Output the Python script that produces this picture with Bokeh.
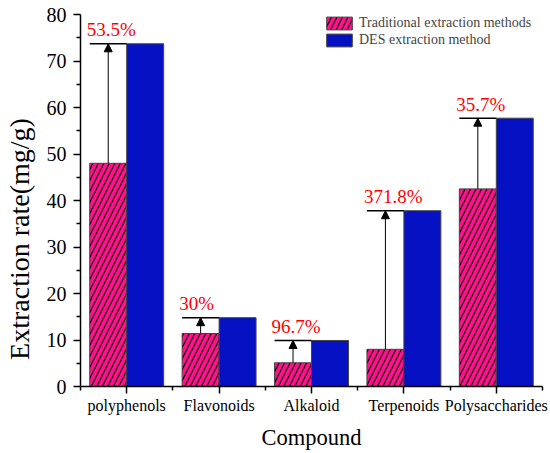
from bokeh.plotting import figure
from bokeh.models import (ColumnDataSource, Range1d, FixedTicker, Legend, LegendItem,
                          Arrow, NormalHead)
from bokeh.core.properties import value
from bokeh.embed import file_html
from bokeh.resources import INLINE

categories = ["polyphenols", "Flavonoids", "Alkaloid", "Terpenoids", "Polysaccharides"]
traditional = [48.0, 11.4, 5.1, 8.0, 42.5]
des = [73.7, 14.8, 9.9, 37.8, 57.7]
increase_labels = ["53.5%", "30%", "96.7%", "371.8%", "35.7%"]
y_ticks = [0, 10, 20, 30, 40, 50, 60, 70, 80]

FONT = "Liberation Serif"
PINK = "#FF108C"
BLUE = "#0511C2"

idx = list(range(len(categories)))
src = ColumnDataSource(dict(
    x_trad=[i + 0.3 for i in idx],
    x_des=[i + 0.7 for i in idx],
    x_left=[i + 0.1 for i in idx],
    x_mid=[i + 0.5 for i in idx],
    trad=traditional,
    des=des,
    lab_y=[d + 3.0 for d in des],
    lab=increase_labels,
))

p = figure(width=550, height=453, output_backend="svg", toolbar_location=None,
           x_range=Range1d(0, 5), y_range=Range1d(0, 80),
           min_border_left=80, min_border_right=8, min_border_top=14, min_border_bottom=67)
p.outline_line_color = None
p.xgrid.grid_line_color = None
p.ygrid.grid_line_color = None
p.background_fill_color = "white"
p.border_fill_color = "white"

r_trad = p.vbar(x="x_trad", top="trad", width=0.4, source=src, fill_color=PINK,
                line_color="#444444", line_width=1, hatch_pattern="right_diagonal_line",
                hatch_color="black", hatch_scale=11, hatch_weight=1.1)
r_des = p.vbar(x="x_des", top="des", width=0.4, source=src, fill_color=BLUE,
               line_color="#444444", line_width=1)

# horizontal reference lines at the DES level
p.segment(x0="x_left", y0="des", x1="x_mid", y1="des", source=src,
          line_color="black", line_width=1.5)

# arrows from traditional top to DES level
p.add_layout(Arrow(end=NormalHead(size=8, fill_color="black", line_color="black"),
                   x_start="x_trad", y_start="trad", x_end="x_trad", y_end="des",
                   source=src, line_color="black", line_width=1))

p.text(x="x_left", y="lab_y", text="lab", source=src, text_color="red",
       text_font=value(FONT), text_font_size="19px", text_align="left",
       text_baseline="alphabetic", x_offset=-3)

# axes
p.xaxis.ticker = FixedTicker(ticks=[i + 0.5 for i in idx], minor_ticks=[0, 1, 2, 3, 4, 5])
p.xaxis.major_label_overrides = {i + 0.5: c for i, c in zip(idx, categories)}
p.yaxis.ticker = FixedTicker(ticks=y_ticks, minor_ticks=[t + 5 for t in y_ticks[:-1]])

for ax in (p.xaxis[0], p.yaxis[0]):
    ax.axis_line_color = "black"
    ax.axis_line_width = 1.5
    ax.major_tick_line_color = "black"
    ax.major_tick_line_width = 1.5
    ax.minor_tick_line_color = "black"
    ax.minor_tick_line_width = 1.5
    ax.major_tick_in = 0
    ax.major_tick_out = 7
    ax.minor_tick_in = 0
    ax.minor_tick_out = 4
    ax.major_label_text_font = FONT
    ax.major_label_text_color = "black"
    ax.axis_label_text_font = FONT
    ax.axis_label_text_font_style = "normal"
    ax.axis_label_text_color = "black"

p.yaxis.major_label_text_font_size = "20px"
p.yaxis.major_label_standoff = 7
p.yaxis.axis_label = "Extraction rate(mg/g)" + "\u00a0" * 11
p.yaxis.axis_label_text_font_size = "28px"
p.yaxis.axis_label_standoff = 9
p.xaxis.major_label_text_font_size = "16px"
p.xaxis.major_label_standoff = 3
p.xaxis.axis_label = "Compound"
p.xaxis.axis_label_text_font_size = "22.5px"
p.xaxis.axis_label_standoff = 8

legend = Legend(items=[LegendItem(label="Traditional extraction methods", renderers=[r_trad]),
                       LegendItem(label="DES extraction method", renderers=[r_des])],
                location=(243, 338), orientation="vertical")
legend.padding = 0
legend.margin = 0
legend.spacing = 1
legend.glyph_width = 32
legend.glyph_height = 16
legend.label_height = 16
legend.label_standoff = 4
legend.label_text_font = FONT
legend.label_text_font_size = "14px"
legend.label_text_baseline = "middle"
legend.border_line_color = None
legend.background_fill_alpha = 0
p.add_layout(legend)

open("out.html", "w").write(file_html(p, INLINE))
